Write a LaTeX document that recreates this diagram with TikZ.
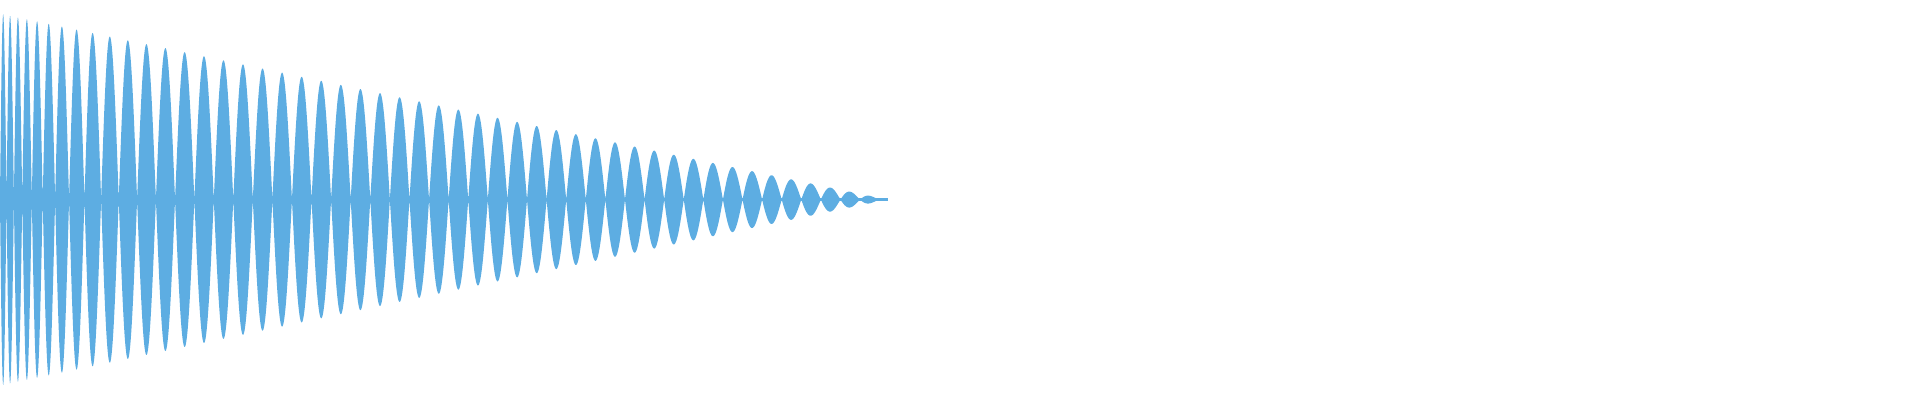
\documentclass[tikz,border=0pt]{standalone}
\definecolor{wave}{HTML}{5DADE2}
\begin{document}
\begin{tikzpicture}[x=0.01cm, y=0.01cm]
    \useasboundingbox (0, 0) rectangle (1568, 327);
    % envelope and phase of the decaying tone
    \fill [wave] plot [samples=2500, domain=0:724] (\x, {164 + 152*(1 - \x/725)*abs(sin(180*(\x/16 + 4.1*(1 - exp(-\x/30)))))})
        -- plot [samples=2500, domain=724:0] (\x, {164 - 152*(1 - \x/725)*abs(sin(180*(\x/16 + 4.1*(1 - exp(-\x/30)))))}) -- cycle;
    \draw [wave, line width=0.6pt] (0, 164) -- (725, 164);
\end{tikzpicture}
\end{document}
